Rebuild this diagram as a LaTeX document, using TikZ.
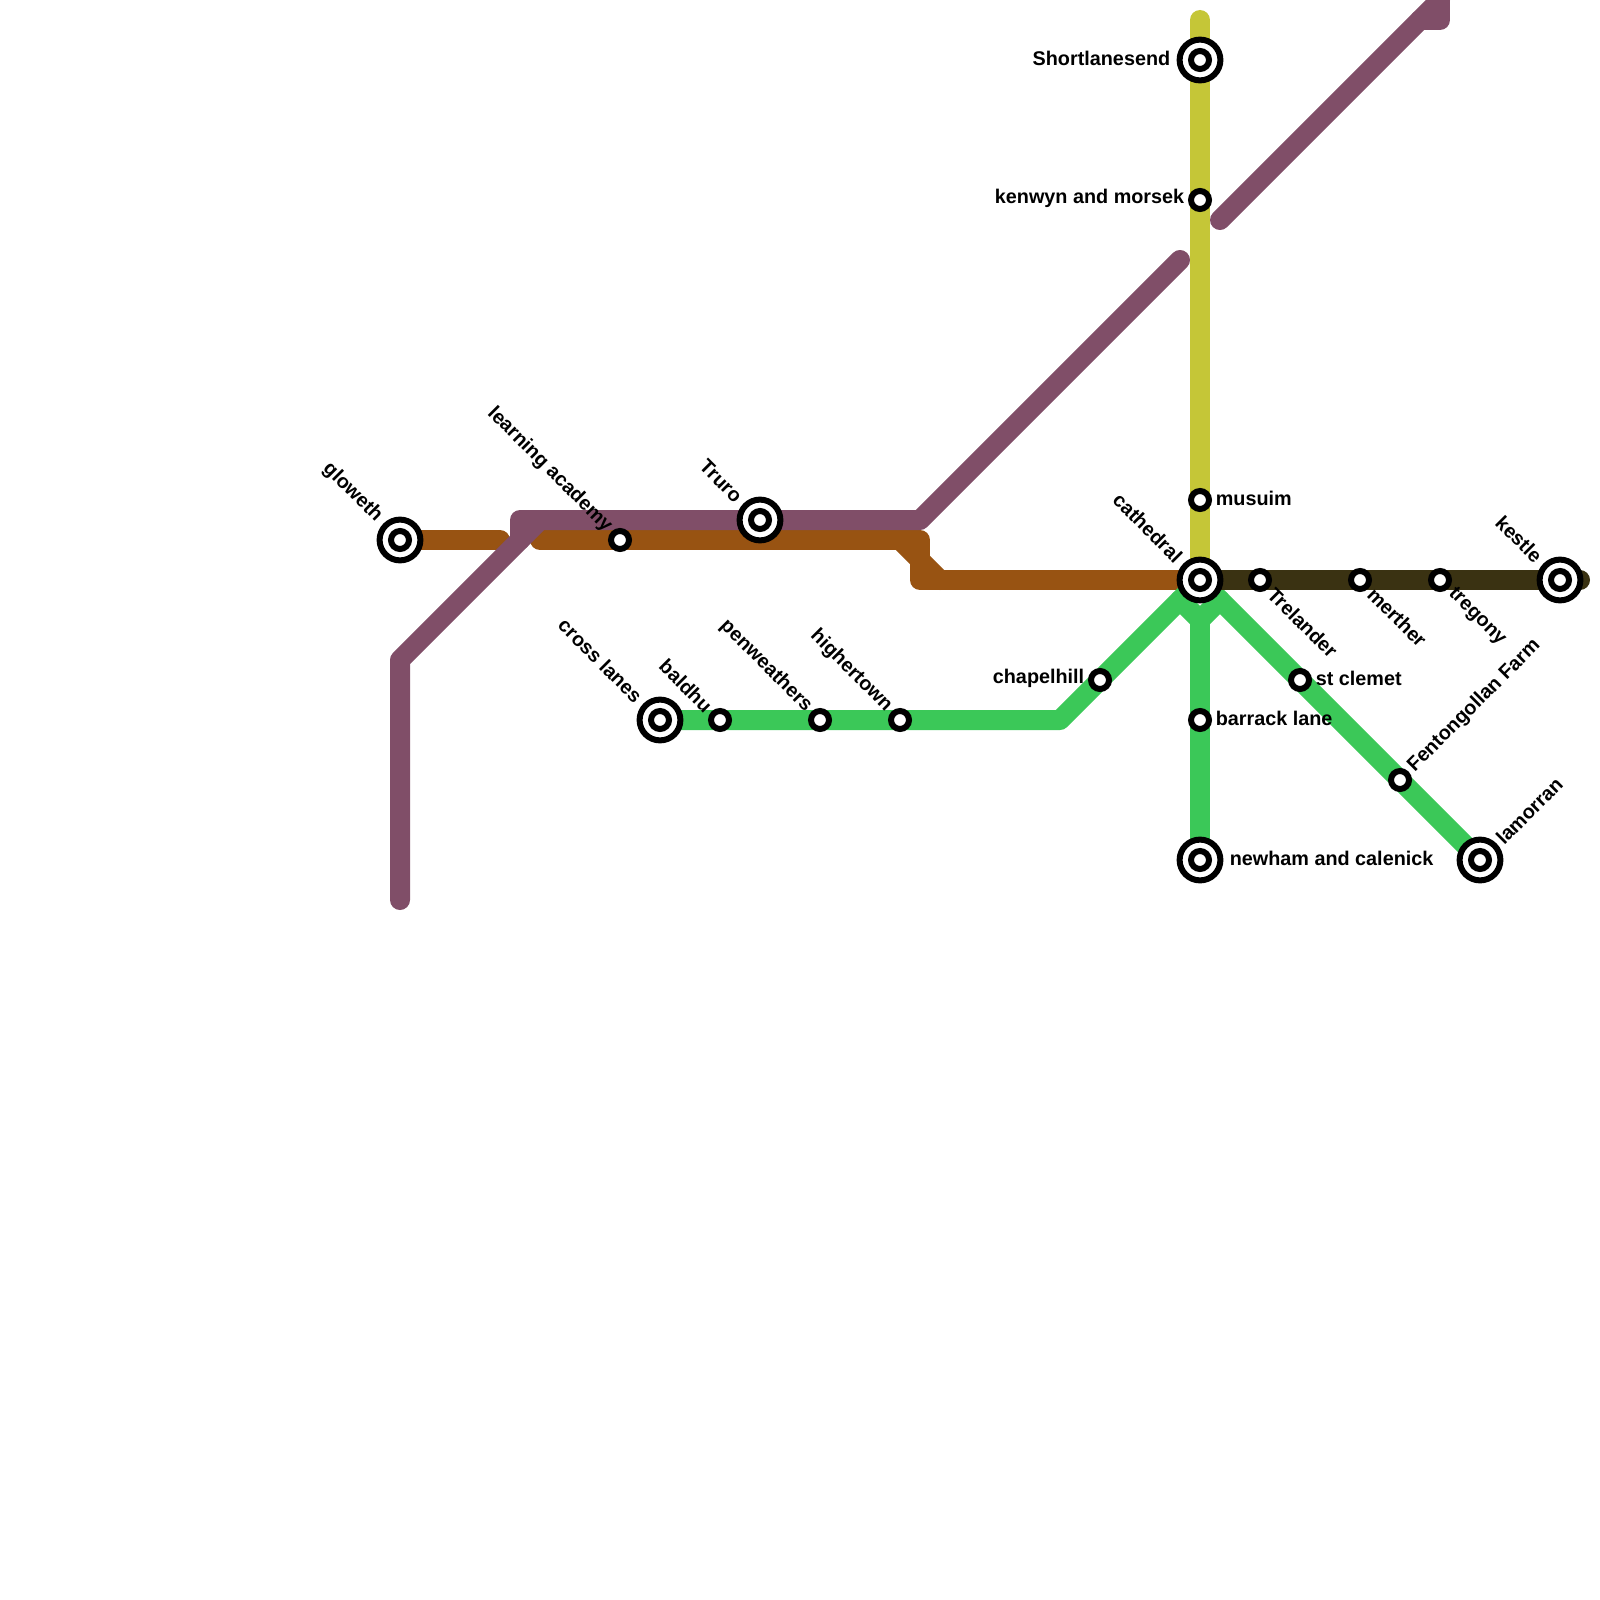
\documentclass[tikz,border=0pt]{standalone}
\usepackage{fontspec}
\setmainfont{Liberation Sans}
\usetikzlibrary{backgrounds}
\definecolor{linepurple}{RGB}{128,78,104}
\definecolor{linebrown}{RGB}{152,83,18}
\definecolor{lineyellow}{RGB}{197,198,55}
\definecolor{linegreen}{RGB}{59,200,88}
\definecolor{linedark}{RGB}{58,50,18}

\begin{document}
\begin{tikzpicture}[
  x=0.5pt, y=-0.5pt,
  stn/.style={circle, draw=black, fill=white, line width=3pt, minimum size=9pt, inner sep=0pt},
  hub/.style={circle, draw=black, fill=white, line width=3pt, minimum size=20.4pt, inner sep=0pt},
  txt/.style={font=\bfseries\fontsize{9.9}{12}\selectfont, inner sep=1.7pt},
  wide/.style={inner sep=3pt},
  side/.style={txt, yshift=0.8pt},
  tl/.style={txt, rotate=-45, anchor=east},
  tr/.style={txt, rotate=45, anchor=west},
  br/.style={txt, rotate=-45, anchor=west},
  metro/.style={line width=10pt, line cap=round, line join=round}
]
\useasboundingbox (0,0) rectangle (1600,1600);

\node[hub] (gloweth) at (400,540) {};
\node[hub] (truro) at (760,520) {};
\node[hub] (crosslanes) at (660,720) {};
\node[hub] (short) at (1200,60) {};
\node[hub] (cathedral) at (1200,580) {};
\node[hub] (kestle) at (1560,580) {};
\node[hub] (newham) at (1200,860) {};
\node[hub] (lamorran) at (1480,860) {};
\node[stn] (glowethin) at (gloweth) {};
\node[stn] (truroin) at (truro) {};
\node[stn] (crosslanesin) at (crosslanes) {};
\node[stn] (shortin) at (short) {};
\node[stn] (cathedralin) at (cathedral) {};
\node[stn] (kestlein) at (kestle) {};
\node[stn] (newhamin) at (newham) {};
\node[stn] (lamorranin) at (lamorran) {};
\node[stn] (academy) at (620,540) {};
\node[stn] (baldhu) at (720,720) {};
\node[stn] (penweathers) at (820,720) {};
\node[stn] (highertown) at (900,720) {};
\node[stn] (chapelhill) at (1100,680) {};
\node[stn] (kenwyn) at (1200,200) {};
\node[stn] (musuim) at (1200,500) {};
\node[stn] (barrack) at (1200,720) {};
\node[stn] (trelander) at (1260,580) {};
\node[stn] (merther) at (1360,580) {};
\node[stn] (tregony) at (1440,580) {};
\node[stn] (clemet) at (1300,680) {};
\node[stn] (fentongollan) at (1400,780) {};

\node[tl, wide] (l1) at (gloweth.north west) {gloweth};
\node[tl] (l2) at (academy.north west) {learning academy};
\node[tl, wide] (l3) at (truro.north west) {Truro};
\node[tl, wide] (l4) at (crosslanes.north west) {cross lanes};
\node[tl] (l5) at (baldhu.north west) {baldhu};
\node[tl] (l6) at (penweathers.north west) {penweathers};
\node[tl] (l7) at (highertown.north west) {highertown};
\node[tl, wide] (l8) at (cathedral.north west) {cathedral};
\node[tl, wide] (l9) at (kestle.north west) {kestle};
\node[side, wide, left=0pt] (l10) at (short.west) {Shortlanesend};
\node[side, left=0pt] (l11) at (kenwyn.west) {kenwyn and morsek};
\node[side, left=0pt] (l12) at (chapelhill.west) {chapelhill};
\node[side, right=0pt] (l13) at (musuim.east) {musuim};
\node[side, right=0pt] (l14) at (barrack.east) {barrack lane};
\node[side, right=0pt] (l15) at (clemet.east) {st clemet};
\node[side, wide, right=0pt] (l16) at (newham.east) {newham and calenick};
\node[br] (l17) at (trelander.south east) {Trelander};
\node[br] (l18) at (merther.south east) {merther};
\node[br] (l19) at (tregony.south east) {tregony};
\node[tr] (l20) at (fentongollan.north east) {Fentongollan Farm};
\node[tr] (l21) at (lamorran.north east) {lamorran};

\coordinate (p1) at (400,900);
\coordinate (p2) at (400,660);
\coordinate (p3) at (520,540);
\coordinate (p4) at (520,520);
\coordinate (p5) at (540,520);
\coordinate (p6) at (920,520);
\coordinate (p7) at (1180,260);
\coordinate (p8) at (1220,220);
\coordinate (p9) at (1440,0);
\coordinate (p10) at (1420,20);
\coordinate (p11) at (1440,20);
\coordinate (b1) at (500,540);
\coordinate (b2) at (540,540);
\coordinate (b3) at (920,540);
\coordinate (b4) at (920,580);
\coordinate (b5) at (900,540);
\coordinate (b6) at (940,580);
\coordinate (g1) at (1060,720);
\coordinate (g2) at (1180,600);
\coordinate (g3) at (1200,620);
\coordinate (g4) at (1220,600);
\coordinate (y1) at (1200,20);
\coordinate (d1) at (1580,580);

\begin{scope}[on background layer]
% lines, lowest first
\draw[metro, linebrown] (gloweth.center) -- (b1);
\draw[metro, linebrown] (b2) -- (b3) -- (b4) -- (cathedral.center);
\draw[metro, linebrown] (b5) -- (b6);
\draw[metro, linepurple] (p1) -- (p2) -- (p3) -- (p4) -- (p6) -- (p7);
\draw[metro, linepurple] (p3) -- (p5);
\draw[metro, linepurple] (p8) -- (p9);
\draw[metro, linepurple] (p10) -- (p11) -- (p9);
\draw[metro, linebrown, line cap=butt] (b3) -- (b4);
\draw[metro, lineyellow] (y1) -- (cathedral.center);
\draw[metro, linegreen] (crosslanes.center) -- (g1) -- (cathedral.center);
\draw[metro, linegreen] (lamorran.center) -- (cathedral.center);
\draw[metro, linegreen] (g2) -- (g3) -- (g4);
\draw[metro, linegreen] (g3) -- (newham.center);
\draw[metro, linedark] (cathedral.center) -- (d1);
\end{scope}
\end{tikzpicture}
\end{document}
